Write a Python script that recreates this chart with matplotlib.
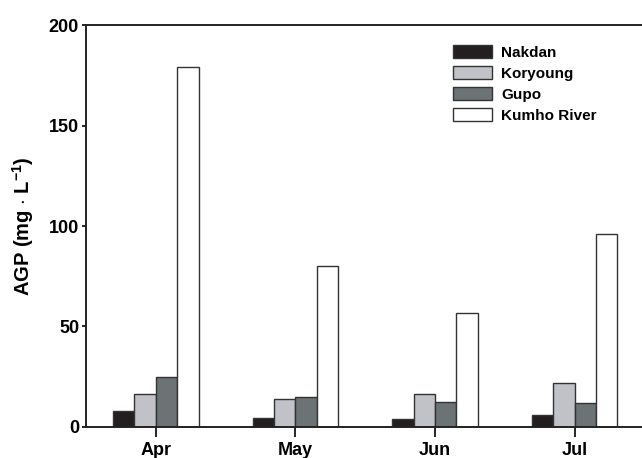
import numpy as np
import matplotlib
matplotlib.use("Agg")
import matplotlib.pyplot as plt

# data
months = ["Apr", "May", "Jun", "Jul"]
sites = ["Nakdan", "Koryoung", "Gupo", "Kumho River"]
nakdan = [7.8, 4.6, 4.0, 6.0]
koryoung = [16.6, 13.8, 16.6, 21.9]
gupo = [24.6, 14.9, 12.6, 12.1]
kumho = [179.4, 80.3, 56.9, 96.1]

colors = ["#231f20", "#c0c2c8", "#6b7375", "#ffffff"]

plt.rcParams["font.family"] = ["Liberation Sans", "DejaVu Sans"]
plt.rcParams["font.weight"] = "bold"
plt.rcParams["mathtext.fontset"] = "custom"
plt.rcParams["mathtext.bf"] = "Liberation Sans:bold"
plt.rcParams["mathtext.rm"] = "Liberation Sans:bold"
plt.rcParams["mathtext.default"] = "bf"

fig = plt.figure(figsize=(6.42, 4.58), dpi=100)
ax = fig.add_axes([0.134, 0.068, 0.87, 0.877])

x = np.arange(len(months))
w = 0.153
series = [nakdan, koryoung, gupo, kumho]
for i, vals in enumerate(series):
    ax.bar(x + (i - 1.5) * w, vals, width=w, color=colors[i],
           edgecolor="#333333", linewidth=1.0, label=sites[i], zorder=2)

ax.set_xlim(-0.5, 3.5)
ax.set_ylim(0, 200)
ax.set_yticks([0, 50, 100, 150, 200])
ax.set_xticks(x)
ax.set_xticklabels(months)

ax.spines["right"].set_visible(False)
for s in ["left", "bottom", "top"]:
    ax.spines[s].set_linewidth(1.4)
    ax.spines[s].set_color("#222222")

ax.tick_params(axis="y", direction="out", length=3, width=1.2, labelsize=13, pad=2)
ax.tick_params(axis="x", direction="out", length=7, width=1.2, labelsize=13, pad=4)
for t in ax.get_xticklabels() + ax.get_yticklabels():
    t.set_fontweight("bold")

ax.set_ylabel(r"AGP (mg $\cdot$ L$^{-1}$)", fontsize=14.5, fontweight="bold", labelpad=9)

ax.legend(loc="upper left", bbox_to_anchor=(0.632, 0.985), frameon=False,
          handlelength=2.6, handleheight=0.9,
          labelspacing=0.42, handletextpad=0.55,
          prop={"weight": "bold", "size": 11})

fig.savefig("out.png", dpi=100)
